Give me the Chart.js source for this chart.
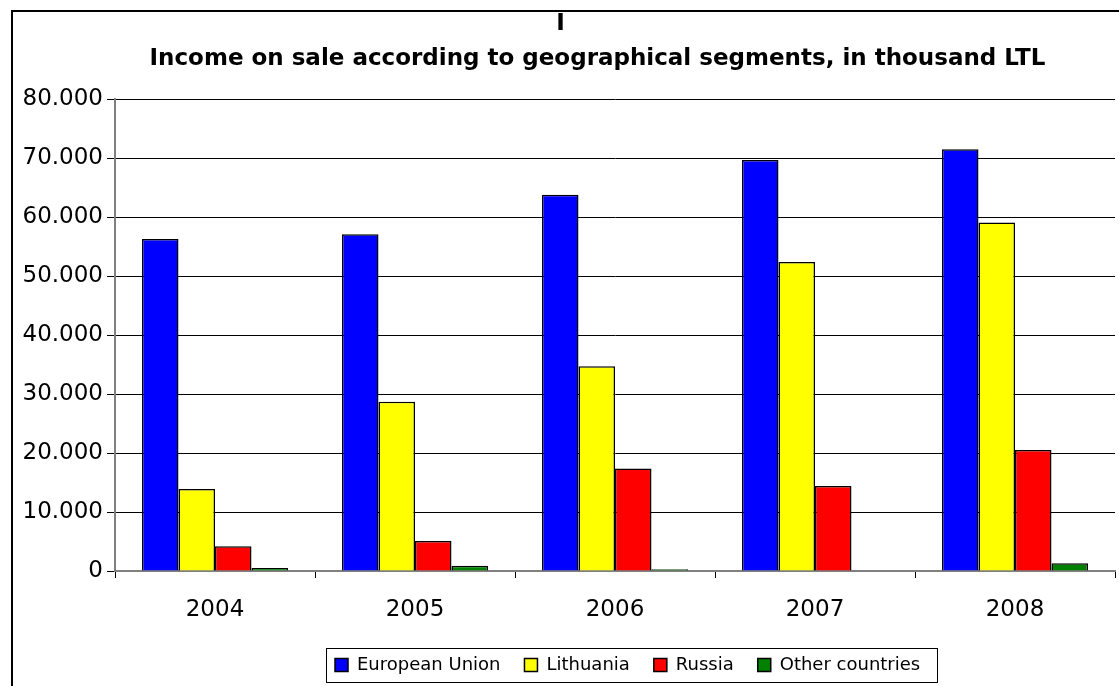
<!DOCTYPE html>
<html>
<head>
<meta charset="utf-8">
<script src="https://cdn.jsdelivr.net/npm/chart.js@4.4.1/dist/chart.umd.min.js"></script>
<style>
  html, body { margin: 0; padding: 0; background: #fff; }
  #wrap { position: absolute; left: 0; top: 0; width: 1119px; height: 686px; }
</style>
</head>
<body>
<div id="wrap"><canvas id="c" width="1119" height="686"></canvas></div>
<script>
const years = ["2004", "2005", "2006", "2007", "2008"];
const europeanUnion = [56300, 57100, 63800, 69700, 71500];
const lithuania = [13900, 28700, 34700, 52400, 59100];
const russia = [4200, 5100, 17400, 14400, 20500];
const otherCountries = [500, 900, 300, 0, 1300];
const yTicks = [0, 10000, 20000, 30000, 40000, 50000, 60000, 70000, 80000];

const TITLE_MARK = "I";
const TITLE_TEXT = "Income on sale according to geographical segments, in thousand LTL";

const FONT = "'DejaVu Sans', 'Liberation Sans', Arial, sans-serif";
const LEGEND_START_X = 335;
const LEGEND_PAD = 24;

function fmt(v) {
  return String(v).replace(/\B(?=(\d{3})+(?!\d))/g, ".");
}

const framePlugin = {
  id: "frame",
  afterLayout(chart) {
    const lg = chart.legend;
    if (lg) {
      const w = lg.right - lg.left;
      lg.left = LEGEND_START_X - LEGEND_PAD;
      lg.right = lg.left + w;
    }
    chart.boxes.forEach(b => {
      if (b.options && b.options.text === TITLE_TEXT) {
        b.left += 40; b.right += 40;
        b.top -= 1; b.bottom -= 1;
      } else if (b.options && b.options.text === TITLE_MARK) {
        b.left += 3; b.right += 3;
      }
    });
  },
  beforeDraw(chart) {
    const ctx = chart.ctx;
    ctx.save();
    ctx.fillStyle = "#fff";
    ctx.fillRect(0, 0, chart.width, chart.height);
    ctx.strokeStyle = "#000";
    ctx.lineWidth = 2;
    ctx.beginPath();
    ctx.moveTo(12, 686);
    ctx.lineTo(12, 11);
    ctx.lineTo(1119, 11);
    ctx.stroke();
    ctx.restore();
  },
  afterDraw(chart) {
    const lg = chart.legend;
    if (!lg || !lg.legendHitBoxes || !lg.legendHitBoxes.length) return;
    let l = Infinity, r = -Infinity, t = Infinity, b = -Infinity;
    lg.legendHitBoxes.forEach(h => {
      l = Math.min(l, h.left); r = Math.max(r, h.left + h.width);
      t = Math.min(t, h.top); b = Math.max(b, h.top + h.height);
    });
    const ctx = chart.ctx;
    ctx.save();
    ctx.strokeStyle = "#000";
    ctx.lineWidth = 1;
    const x0 = Math.round(l - 9), x1 = Math.round(r + 17);
    const yc = (t + b) / 2;
    const y0 = Math.round(yc - 17), y1 = Math.round(yc + 17);
    ctx.strokeRect(x0 + 0.5, y0 + 0.5, x1 - x0, y1 - y0);
    ctx.restore();
  }
};

new Chart(document.getElementById("c"), {
  type: "bar",
  data: {
    labels: years,
    datasets: [
      { label: "European Union", data: europeanUnion, backgroundColor: "#0000ff", borderColor: "#000", borderWidth: 1.5 },
      { label: "Lithuania", data: lithuania, backgroundColor: "#ffff00", borderColor: "#000", borderWidth: 1.5 },
      { label: "Russia", data: russia, backgroundColor: "#ff0000", borderColor: "#000", borderWidth: 1.5 },
      { label: "Other countries", data: otherCountries, backgroundColor: "#008000", borderColor: "#000", borderWidth: 1.5 }
    ]
  },
  options: {
    responsive: false,
    animation: false,
    devicePixelRatio: 1,
    categoryPercentage: 0.73,
    barPercentage: 1.0,
    layout: { padding: { left: 0, right: 4, top: 2, bottom: 2 } },
    plugins: {
      title: {
        display: true,
        text: TITLE_MARK,
        color: "#000",
        font: { family: FONT, size: 23, weight: "bold", lineHeight: 1.2 },
        padding: { top: 8, bottom: 0 }
      },
      subtitle: {
        display: true,
        text: TITLE_TEXT,
        color: "#000",
        font: { family: FONT, size: 23, weight: "bold", lineHeight: 1.2 },
        padding: { top: 9, bottom: 25 }
      },
      legend: {
        display: true,
        position: "bottom",
        align: "start",
        labels: {
          color: "#000",
          font: { family: FONT, size: 18 },
          boxWidth: 13,
          boxHeight: 13,
          padding: LEGEND_PAD
        }
      },
      tooltip: { enabled: false }
    },
    scales: {
      x: {
        afterFit(scale) { scale.height = 61; },
        grid: { offset: true, drawOnChartArea: false, drawTicks: true, tickLength: 7, color: "#000", lineWidth: 1 },
        border: { color: "#808080", width: 2 },
        ticks: { color: "#000", font: { family: FONT, size: 23 }, padding: 18 }
      },
      y: {
        min: 0,
        max: 80000,
        afterBuildTicks(scale) { scale.ticks = yTicks.map(v => ({ value: v })); },
        afterFit(scale) { scale.width = 115; },
        grid: { color: "#000", lineWidth: 1, tickLength: 8 },
        border: { color: "#808080", width: 2 },
        ticks: { color: "#000", font: { family: FONT, size: 23 }, padding: 4, callback: v => fmt(v) }
      }
    }
  },
  plugins: [framePlugin]
});
</script>
</body>
</html>
